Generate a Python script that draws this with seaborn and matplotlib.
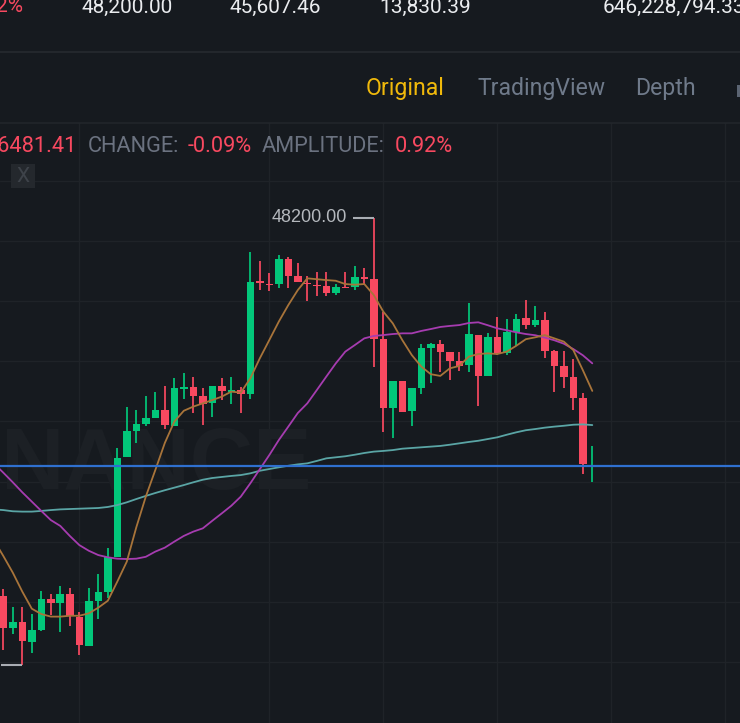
import numpy as np
import pandas as pd
import matplotlib
matplotlib.use('Agg')
import matplotlib.pyplot as plt
from matplotlib.lines import Line2D
from matplotlib.patches import Rectangle
import seaborn as sns

# candle values
open_ = [46009, 45824, 45857, 45741, 45810, 45992, 45967, 46019, 45888, 45719, 45979, 46033, 46232,
         46812, 46966, 47005, 47042, 47086, 46995, 47210, 47222, 47166, 47127, 47226, 47193, 47201,
         47181, 47833, 47819, 47819, 47961, 47864, 47823, 47813, 47807, 47765, 47802, 47798, 47856,
         47848, 47496, 47096, 47253, 47079, 47216, 47446, 47469, 47423, 47372, 47347, 47523, 47284,
         47512, 47417, 47539, 47620, 47578, 47607, 47430, 47340, 47278, 47156, 46762]
high = [46046, 45946, 45942, 45903, 46037, 46019, 46067, 46052, 45913, 46056, 46134, 46284, 46864,
        47106, 47086, 47168, 47189, 47226, 47274, 47299, 47278, 47214, 47226, 47274, 47278, 47222,
        48001, 47951, 47879, 47984, 47976, 47937, 47864, 47885, 47889, 47816, 47889, 47922, 47908,
        48200, 47653, 47253, 47253, 47216, 47469, 47473, 47492, 47423, 47423, 47705, 47523, 47535,
        47628, 47613, 47643, 47723, 47691, 47657, 47436, 47429, 47382, 47187, 46876]
low = [45694, 45787, 45607.46, 45675, 45806, 45897, 45797, 45834, 45667, 45716, 45874, 45998, 46232,
       46812, 46893, 46994, 47042, 46975, 46995, 47150, 47071, 47001, 47046, 47144, 47120, 47067,
       47149, 47781, 47775, 47796, 47796, 47827, 47719, 47748, 47749, 47752, 47792, 47781, 47811,
       47334, 46961, 46922, 47077, 46995, 47181, 47243, 47307, 47262, 47313, 47307, 47110, 47284,
       47407, 47407, 47458, 47555, 47570, 47388, 47191, 47214, 47086, 46715, 46671]
close = [45820, 45857, 45748, 45810, 45992, 45969, 46019, 45892, 45722, 45979, 46029, 46232, 46810,
         46965, 47005, 47042, 47086, 47001, 47216, 47222, 47168, 47123, 47226, 47197, 47201, 47181,
         47831, 47823, 47810, 47961, 47864, 47827, 47816, 47806, 47765, 47800, 47794, 47856, 47848,
         47496, 47096, 47253, 47077, 47216, 47444, 47469, 47423, 47372, 47343, 47526, 47285, 47512,
         47417, 47539, 47616, 47578, 47607, 47430, 47342, 47280, 47158, 46773, 46766]

# moving averages, first value sits one candle left of the first candle
ma7 = [46332, 46240, 46143, 46033, 45934, 45903, 45888, 45888, 45893, 45893, 45907, 45940, 45980, 46091,
       46207, 46406, 46584, 46738, 46895, 47019, 47082, 47106, 47125, 47144, 47164, 47193, 47187, 47270,
       47386, 47492, 47599, 47695, 47782, 47850, 47845, 47840, 47836, 47817, 47813, 47817, 47753, 47657,
       47589, 47492, 47405, 47338, 47294, 47284, 47328, 47342, 47396, 47411, 47415, 47411, 47425, 47459,
       47497, 47508, 47521, 47502, 47483, 47434, 47318, 47197]
ma25 = [46777, 46723, 46667, 46609, 46555, 46501, 46448, 46414, 46356, 46303, 46270, 46245, 46232, 46224,
        46222, 46224, 46235, 46265, 46288, 46323, 46356, 46381, 46400, 46444, 46487, 46531, 46584, 46661,
        46743, 46825, 46912, 46990, 47069, 47125, 47202, 47280, 47357, 47425, 47463, 47502, 47516, 47521,
        47527, 47531, 47531, 47545, 47556, 47568, 47574, 47579, 47591, 47595, 47578, 47560, 47549, 47537,
        47527, 47520, 47506, 47491, 47471, 47440, 47404, 47357]
ma99 = [46510, 46506, 46499, 46497, 46497, 46501, 46506, 46510, 46512, 46514, 46516, 46518, 46524, 46535,
        46551, 46570, 46588, 46605, 46621, 46636, 46651, 46667, 46682, 46692, 46698, 46704, 46709, 46719,
        46734, 46744, 46754, 46763, 46771, 46777, 46791, 46806, 46812, 46818, 46827, 46837, 46845, 46849,
        46854, 46862, 46866, 46870, 46874, 46878, 46885, 46893, 46901, 46908, 46918, 46928, 46943, 46957,
        46969, 46976, 46984, 46990, 46995, 47001, 47003, 46999]

last_price = 46762
grid_prices = [48415, 48067, 47719, 47371, 47023, 46669, 46321, 45973, 45625]
grid_candles = [8, 28, 40, 52, 64, 76]

BG = '#161a1f'
GRID = '#1f2328'
GREEN = '#02c77a'
RED = '#f84960'
GREY = '#6b7280'
FONT = 'Roboto'

sns.set_theme(style='dark', rc={'axes.facecolor': BG, 'figure.facecolor': BG})
plt.rcParams['font.family'] = [FONT, 'DejaVu Sans']

W, H = 740, 723
fig = plt.figure(figsize=(W / 100, H / 100), dpi=100)
ax = fig.add_axes([0, 0, 1, 600 / H])

candles = pd.DataFrame({'open': open_, 'high': high, 'low': low, 'close': close})
candles['i'] = np.arange(len(candles))
up = candles['close'] >= candles['open']
colors = np.where(up, GREEN, RED)

ax.text(-0.3, 46760, 'NANCE', fontsize=63, fontweight='bold', color='#1c2025', va='center', ha='left',
        family='Liberation Sans', zorder=1)

ax.vlines(candles['i'], candles['low'], candles['high'], colors=colors, lw=1.25, zorder=3)
ax.bar(candles['i'], (candles['close'] - candles['open']).abs(), bottom=candles[['open', 'close']].min(axis=1),
       width=0.8, color=colors, linewidth=0, zorder=3)

line_x = np.arange(-1, len(ma7) - 1)
for values, col in [(ma99, '#5aa5a5'), (ma25, '#a63cb0'), (ma7, '#a8743a')]:
    sns.lineplot(x=line_x, y=values, color=col, lw=1.3, ax=ax, zorder=4, estimator=None, sort=False)

ax.axhline(last_price, color='#2f70cf', lw=1.6, zorder=5)

# high / low markers
top_i = int(np.argmax(high))
ax.hlines(max(high), top_i - 2.2, top_i, color='#a9adb3', lw=1.5, zorder=5)
ax.text(top_i - 2.8, max(high), '48200.00', color='#b4b8bd', fontsize=13, family='Liberation Sans',
        ha='right', va='center', zorder=5)
low_i = int(np.argmin(low))
ax.hlines(min(low), low_i - 2.25, low_i, color='#a9adb3', lw=1.5, zorder=5)

ax.set_xlim(-3.3 / 9.5, (W - 3.3) / 9.5)
ax.set_ylim(49464.4 - 5.8 * H, 49464.4 - 5.8 * 123)
ax.set_xticks(grid_candles)
ax.set_yticks(grid_prices)
ax.grid(True, color=GRID, lw=1)
ax.set_axisbelow(True)
ax.tick_params(length=0, labelbottom=False, labelleft=False)
ax.set_xlabel('')
ax.set_ylabel('')
sns.despine(ax=ax, left=True, bottom=True)


def label(x, y, s, color, size=15.7, ha='left'):
    fig.text(x / W, 1 - y / H, s, color=color, fontsize=size, ha=ha, va='center')


# header rows
label(23, 7, '2%', RED, size=15, ha='right')
for x, s in [(81, '48,200.00'), (229, '45,607.46'), (379, '13,830.39'), (603, '646,228,794.33')]:
    label(x, 7, s, '#eaecef', size=15)
label(366, 89, 'Original', '#f0b90b', size=16.6)
label(478, 89, 'TradingView', '#6f7a8a', size=16.6)
label(635, 89, 'Depth', '#6f7a8a', size=16.6)
label(77, 146, '46481.41', RED, ha='right')
label(88, 146, 'CHANGE:', GREY)
label(188, 146, '-0.09%', RED)
label(262, 146, 'AMPLITUDE:', GREY)
label(395, 146, '0.92%', RED)

fig.add_artist(Line2D([0, 1], [1 - 52 / H] * 2, color='#262a2f', lw=1.2))
fig.add_artist(Line2D([0, 1], [1 - 123 / H] * 2, color='#22262b', lw=1.2))

# close button and the cut-off icon on the right edge
fig.add_artist(Rectangle((11 / W, 1 - 188 / H), 24 / W, 24 / H, color='#24282d', lw=0, zorder=6))
fig.text(23 / W, 1 - 176.5 / H, 'X', color='#3e434a', fontsize=15, ha='center', va='center', zorder=7)
fig.add_artist(Rectangle((737 / W, 1 - 97 / H), 3 / W, 12 / H, color='#5b6472', lw=0))

fig.savefig('out.png', dpi=100, facecolor=BG)
